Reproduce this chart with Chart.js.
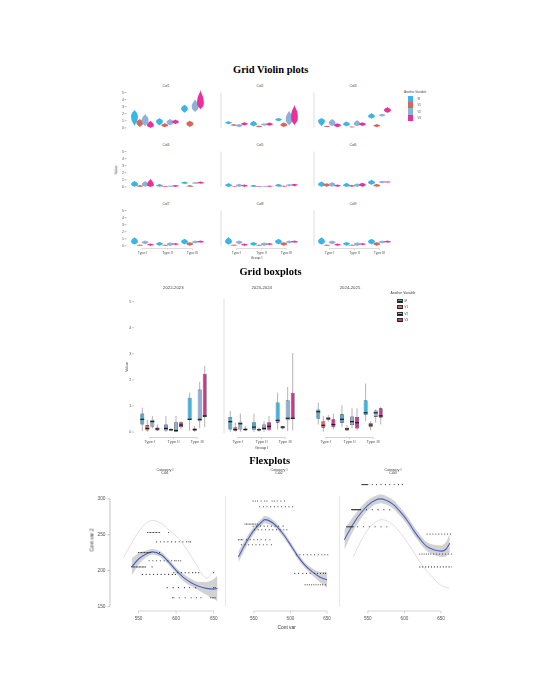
<!DOCTYPE html>
<html lang="en">
<head>
<meta charset="UTF-8" />
<title>Grid Violin plots / Grid boxplots / Flexplots</title>
<style>
  body { margin: 0; background: #fff; }
  #stage {
    position: relative;
    width: 540px;
    height: 699px;
    overflow: hidden;
    background: #fff;
    font-family: "Liberation Sans", Arial, sans-serif;
    color: #444;
  }
  #stage canvas { position: absolute; }
  .txt { position: absolute; white-space: nowrap; line-height: 1; transform: translate(-50%, -50%); }
  .lft { transform: translate(0, -50%); }
  .rot { transform: translate(-50%, -50%) rotate(-90deg); }
  .big { font-family: "Liberation Serif", "Times New Roman", serif; font-weight: bold; font-size: 10.5px; color: #000; }
  .key { position: absolute; box-sizing: border-box; }
</style>
</head>
<body>
<div id="stage"></div>

<script src="https://cdn.jsdelivr.net/npm/chart.js"></script>
<script>
  // ---- shared categories ----
  const groups = ['Type I', 'Type II', 'Type III'];
  const seriesNames = ['M', 'V1', 'V2', 'V3'];
  const violinColors = ['#3bb4e6', '#d5675d', '#8db2da', '#e8319a'];
  const boxColors = ['#42b1dc', '#d4725f', '#8fb0d4', '#d6338f'];

  // ---- violins: per series (M, V1, V2, V3), per group [low, peak, high] ----
  const violinTitles = ['Col1', 'Col2', 'Col3', 'Col4', 'Col5', 'Col6', 'Col7', 'Col8', 'Col9'];
  const violinCol1 = [
    [[0.2, 1.6, 2.6], [0.3, 0.9, 1.4], [2.1, 2.7, 3.3]],
    [[0.1, 0.7, 1.3], [0.1, 0.35, 0.7], [0.1, 0.6, 1.05]],
    [[0.2, 1.05, 2.0], [0.3, 0.8, 1.3], [2.2, 2.95, 4.1]],
    [[0.0, 0.35, 1.05], [0.5, 0.85, 1.2], [2.6, 3.5, 5.4]]
  ];
  const violinCol2 = [
    [[0.5, 0.75, 0.95], [0.2, 0.5, 1.05], [0.95, 1.2, 1.4]],
    [[0.25, 0.4, 0.55], [0.1, 0.2, 0.35], [0.1, 0.4, 0.8]],
    [[0.1, 0.35, 0.55], [0.3, 0.45, 0.65], [0.3, 1.2, 2.5]],
    [[0.35, 0.55, 0.8], [0.3, 0.5, 0.75], [0.3, 1.5, 3.3]]
  ];
  const violinCol3 = [
    [[0.2, 1.0, 1.4], [0.2, 0.5, 0.95], [1.3, 1.6, 2.1]],
    [[0.1, 0.2, 0.3], [0.05, 0.12, 0.2], [0.1, 0.3, 0.55]],
    [[0.2, 0.7, 1.3], [0.2, 0.5, 1.15], [1.6, 1.8, 2.0]],
    [[0.1, 0.35, 0.65], [0.25, 0.5, 0.8], [2.1, 2.5, 2.95]]
  ];
  const violinCol4 = [
    [[0, 0.35, 0.85], [0, 0.15, 0.4], [0.4, 0.55, 0.75]],
    [[0, 0.1, 0.25], [0, 0.05, 0.15], [0, 0.05, 0.25]],
    [[0, 0.3, 0.85], [0, 0.1, 0.2], [0.4, 0.55, 0.7]],
    [[0, 0.2, 1.2], [0, 0.12, 0.25], [0.45, 0.6, 0.75]]
  ];
  const violinCol5 = [
    [[0, 0.2, 0.55], [0, 0.1, 0.3], [0, 0.15, 0.45]],
    [[0, 0.05, 0.12], [0, 0.03, 0.1], [0, 0.05, 0.2]],
    [[0, 0.2, 0.45], [0, 0.05, 0.15], [0.05, 0.25, 0.4]],
    [[0, 0.15, 0.35], [0, 0.08, 0.2], [0.1, 0.3, 0.45]]
  ];
  const violinCol6 = [
    [[0, 0.35, 0.75], [0, 0.2, 0.6], [0.3, 0.6, 1.05]],
    [[0, 0.25, 0.5], [0, 0.12, 0.3], [0, 0.15, 0.45]],
    [[0, 0.3, 0.7], [0, 0.2, 0.5], [0.5, 0.7, 0.85]],
    [[0, 0.15, 0.35], [0, 0.3, 0.6], [0.6, 0.7, 0.8]]
  ];
  const violinCol7 = [
    [[0.15, 0.6, 1.25], [0, 0.3, 0.55], [0.2, 0.6, 1.0]],
    [[0, 0.1, 0.2], [0, 0.05, 0.2], [0, 0.25, 0.55]],
    [[0.2, 0.5, 0.75], [0, 0.2, 0.5], [0.35, 0.55, 0.75]],
    [[0, 0.15, 0.35], [0.1, 0.25, 0.4], [0.45, 0.6, 0.75]]
  ];
  const violinCol8 = violinCol7; // the three bottom panels look the same
  const violinCol9 = violinCol7;
  const violinTicks = [0, 1, 2, 3, 4, 5];

  // ---- boxplots: per series, per group [min, q1, median, q3, max] ----
  const boxTitles = ['2022-2023', '2023-2024', '2024-2025'];
  const box2022 = [
    [[0.04, 0.29, 0.49, 0.71, 0.94], [0.01, 0.06, 0.14, 0.29, 0.62], [0.04, 0.46, 0.49, 1.32, 1.51]],
    [[0.01, 0.06, 0.14, 0.27, 0.47], [0.04, 0.06, 0.09, 0.13, 0.14], [0.01, 0.04, 0.1, 0.14, 0.23]],
    [[0.14, 0.2, 0.4, 0.47, 0.62], [0, 0.01, 0.06, 0.38, 0.62], [0.14, 0.42, 0.49, 1.63, 1.92]],
    [[0.04, 0.06, 0.12, 0.18, 0.29], [0.1, 0.19, 0.27, 0.38, 0.42], [0.19, 0.58, 0.62, 2.24, 2.54]]
  ];
  const box2023 = [
    [[0.01, 0.1, 0.4, 0.58, 0.81], [0.01, 0.09, 0.19, 0.38, 0.71], [0.1, 0.36, 0.45, 1.13, 1.51]],
    [[0.01, 0.04, 0.1, 0.19, 0.36], [0.01, 0.06, 0.09, 0.13, 0.19], [0.1, 0.14, 0.19, 0.22, 0.24]],
    [[0.01, 0.1, 0.32, 0.4, 0.71], [0.01, 0.09, 0.14, 0.29, 0.42], [0.04, 0.45, 0.53, 1.22, 1.73]],
    [[0.04, 0.06, 0.1, 0.14, 0.23], [0.04, 0.09, 0.22, 0.38, 0.62], [0.06, 0.49, 0.53, 1.51, 3.03]]
  ];
  const box2024 = [
    [[0.29, 0.51, 0.78, 0.87, 1.13], [0.19, 0.36, 0.49, 0.68, 1.03], [0.42, 0.65, 0.74, 1.22, 1.86]],
    [[0.01, 0.17, 0.26, 0.42, 0.62], [0.04, 0.06, 0.12, 0.17, 0.27], [0.06, 0.19, 0.27, 0.35, 0.42]],
    [[0.4, 0.47, 0.51, 0.58, 0.65], [0.14, 0.27, 0.4, 0.6, 0.91], [0.36, 0.58, 0.74, 0.83, 0.87]],
    [[0.1, 0.19, 0.29, 0.49, 0.71], [0.06, 0.14, 0.36, 0.58, 0.91], [0.29, 0.55, 0.62, 0.91, 0.96]]
  ];
  const boxTicks = [0, 1, 2, 3, 4, 5];

  // ---- flexplots ----
  const flexTitles = ['Cat1', 'Cat2', 'Cat3'];
  const flexXTicks = [550, 600, 650];
  const flexYTicks = [150, 200, 250, 300];

  const fitX1 = [541, 550, 560, 568, 580, 590, 600, 610, 620, 630, 640, 650, 655];
  const fitY1 = [205, 216, 223, 226, 222, 212, 200, 190, 183, 178, 175, 174, 175];
  const fitSe1 = [12, 8, 5, 4, 4, 4, 4, 5, 5, 6, 9, 14, 18];
  const ghostX1 = [530, 540, 550, 560, 568, 580, 590, 605, 623, 641, 650];
  const ghostY1 = [218, 237, 254, 266, 270, 266, 257, 243, 215, 189, 200];
  const rows1 = [
    [253, [562, 564, 566, 568, 570, 572, 574, 576, 578, 590]],
    [240, [574, 579, 584, 589, 594, 599, 604, 609, 614, 617, 619]],
    [225, [550, 552, 554, 556, 558, 560, 562, 564, 566, 578]],
    [213.5, [564, 569, 574, 579, 584, 589, 594, 598, 600, 603, 606]],
    [205, [541, 543, 545, 547, 549, 551, 553, 555, 557, 559, 568]],
    [197, [597, 602, 607, 612, 617, 622, 626, 630, 650]],
    [194.5, [555, 560, 565, 570, 575, 580, 585, 590, 595, 599]],
    [176, [588, 596, 603, 611, 618, 626, 650, 652]],
    [162, [595, 597, 604, 612, 620, 627, 633, 646, 648, 650, 652]]
  ];

  const fitX2 = [529, 540, 550, 560, 565, 570, 580, 590, 600, 610, 620, 630, 640, 650];
  const fitY2 = [219, 240, 256, 267, 271, 270, 263, 251, 236, 220, 207, 198, 191, 187];
  const fitSe2 = [8, 6, 5, 5, 5, 5, 4, 4, 4, 4, 4, 5, 7, 11];
  const rows2 = [
    [297, [549, 552, 555, 560, 565, 568, 575, 578, 582, 587, 592]],
    [289, [558, 563, 568, 573, 578, 583, 588, 593, 598, 603]],
    [265, [538, 540, 542, 544, 546, 548, 550, 552, 555]],
    [262, [549, 554, 559, 564, 569, 574, 579, 584, 590]],
    [257, [551, 556, 561, 566, 571, 576, 581, 586, 591, 595]],
    [243, [529, 531, 533, 535, 540, 545, 550, 555, 560, 566, 572]],
    [236, [533, 538, 543, 548, 553, 558, 563, 568, 574]],
    [222, [608, 613, 618, 623, 628, 633, 638, 643, 647, 651]],
    [196, [606, 611, 617, 622, 627, 633, 637, 641, 645, 648]],
    [180, [620, 623, 626, 629, 632, 635, 638, 641, 644, 648]]
  ];

  const fitX3 = [518, 530, 541, 550, 560, 567, 575, 585, 596, 605, 614, 622, 630, 640, 651, 657, 662];
  const fitY3 = [243, 265, 281, 291, 298, 300, 298, 292, 280, 268, 254, 243, 234, 229, 227, 230, 238];
  const fitSe3 = [14, 10, 8, 7, 6, 6, 6, 6, 6, 6, 6, 6, 6, 7, 8, 10, 13];
  const ghostX3 = [530, 540, 550, 560, 569, 580, 590, 600, 610, 620, 630, 640, 646, 655, 662];
  const ghostY3 = [219, 240, 257, 267, 271, 267, 258, 245, 230, 214, 200, 189, 182, 177, 175];
  const rows3 = [
    [320, [542, 543, 544, 545, 546, 547, 548, 549, 550, 556, 562, 568, 574, 580, 586, 592, 597]],
    [285, [528, 529, 530, 531, 532, 533, 534, 535, 536, 537, 538, 539, 540, 548, 556, 564, 572, 580]],
    [261, [521, 522, 523, 524, 525, 526, 527, 528, 529, 530, 536, 544, 552, 560, 568, 576]],
    [251, [631, 635, 639, 643, 647, 651, 655, 659, 663]],
    [223, [621, 624, 627, 630, 633, 636, 640, 644, 648, 652, 656, 660, 664]],
    [205, [621, 625, 629, 633, 637, 641, 645, 649, 653, 657, 661, 665]]
  ];

  // ---- helpers ----
  Chart.defaults.font.family = '"Liberation Sans", Arial, sans-serif';
  const stage = document.getElementById('stage');

  function text(str, x, y, size, cls, color) {
    const d = document.createElement('div');
    d.className = 'txt' + (cls ? ' ' + cls : '');
    d.textContent = str;
    d.style.left = x + 'px';
    d.style.top = y + 'px';
    if (size) d.style.fontSize = size + 'px';
    if (color) d.style.color = color;
    stage.appendChild(d);
  }

  function key(x, y, w, h, color, border) {
    const k = document.createElement('div');
    k.className = 'key';
    k.style.cssText += `left:${x}px;top:${y}px;width:${w}px;height:${h}px;background:${color};` +
      (border ? 'border:0.4px solid #333;' : '');
    stage.appendChild(k);
    return k;
  }

  // canvas covering the plot area plus room for the axes on the left / bottom
  function canvasAt(left, top, w, h, padL, padB) {
    const c = document.createElement('canvas');
    const cw = Math.round(w + padL), ch = Math.round(h + padB);
    c.width = cw;
    c.height = ch;
    c.style.left = (left - padL) + 'px';
    c.style.top = top + 'px';
    c.style.width = cw + 'px';
    c.style.height = ch + 'px';
    stage.appendChild(c);
    return c.getContext('2d');
  }

  function sized(size, horizontal) {
    return s => {
      if (horizontal) s.height = size; else s.width = size;
      s.paddingLeft = s.paddingRight = s.paddingTop = s.paddingBottom = 0;
    };
  }
  function fixTicks(values) {
    return s => { s.ticks = values.map(v => ({ value: v })); };
  }
  const noGrid = { display: false, drawTicks: false };

  // short axis lines and tick marks, like the ggplot panels
  const axisMarks = {
    id: 'axisMarks',
    afterDraw(chart, args, o) {
      const { ctx, chartArea: a, scales: { x, y } } = chart;
      ctx.save();
      ctx.lineWidth = 0.7;
      const seg = (x1, y1, x2, y2, c) => {
        ctx.strokeStyle = c;
        ctx.beginPath(); ctx.moveTo(x1, y1); ctx.lineTo(x2, y2); ctx.stroke();
      };
      if (o.left) {
        const px = a.left - o.left.gap;
        if (o.left.line) seg(px, y.getPixelForValue(o.left.from), px, y.getPixelForValue(o.left.to), o.left.color);
        if (o.left.ticks) y.ticks.forEach(t => {
          const py = y.getPixelForValue(t.value);
          seg(px - o.left.ticks, py, px, py, o.left.color);
        });
      }
      if (o.bottom) {
        const py = a.bottom + o.bottom.gap;
        const n = x.ticks.length;
        seg(x.getPixelForTick(0), py, x.getPixelForTick(n - 1), py, o.bottom.color);
        for (let i = 0; i < n; i++) {
          const px = x.getPixelForTick(i);
          seg(px, py, px, py + o.bottom.ticks, o.bottom.color);
        }
      }
      ctx.restore();
    }
  };

  // violin outline drawn around each (invisible) floating bar
  const violinShapes = {
    id: 'violinShapes',
    afterDatasetsDraw(chart) {
      const ctx = chart.ctx, ys = chart.scales.y;
      ctx.save();
      chart.data.datasets.forEach((ds, i) => {
        chart.getDatasetMeta(i).data.forEach((bar, j) => {
          const [lo, mid, hi] = ds.shape[j];
          const x = bar.x, w = bar.width * 0.64;
          const yl = ys.getPixelForValue(lo), ym = ys.getPixelForValue(mid), yh = ys.getPixelForValue(hi);
          const up = ym - yh, dn = yl - ym;
          ctx.beginPath();
          ctx.moveTo(x, yh);
          ctx.bezierCurveTo(x + w * 0.12, yh + up * 0.3, x + w, ym - up * 0.6, x + w, ym);
          ctx.bezierCurveTo(x + w, ym + dn * 0.6, x + w * 0.12, yl - dn * 0.3, x, yl);
          ctx.bezierCurveTo(x - w * 0.12, yl - dn * 0.3, x - w, ym + dn * 0.6, x - w, ym);
          ctx.bezierCurveTo(x - w, ym - up * 0.6, x - w * 0.12, yh + up * 0.3, x, yh);
          ctx.closePath();
          ctx.fillStyle = ds.color;
          ctx.fill();
        });
      });
      ctx.restore();
    }
  };

  // whiskers behind the boxes, medians on top
  function boxLines(chart, part) {
    const ctx = chart.ctx, ys = chart.scales.y;
    ctx.save();
    chart.data.datasets.forEach((ds, i) => {
      chart.getDatasetMeta(i).data.forEach((bar, j) => {
        const [mn, , md, , mx] = ds.stats[j];
        ctx.beginPath();
        if (part === 'whisker') {
          ctx.strokeStyle = '#a0a0a0';
          ctx.lineWidth = 0.8;
          ctx.moveTo(bar.x, ys.getPixelForValue(mn));
          ctx.lineTo(bar.x, ys.getPixelForValue(mx));
        } else {
          ctx.strokeStyle = '#1a1a1a';
          ctx.lineWidth = 1.2;
          const py = ys.getPixelForValue(md);
          ctx.moveTo(bar.x - bar.width / 2, py);
          ctx.lineTo(bar.x + bar.width / 2, py);
        }
        ctx.stroke();
      });
    });
    ctx.restore();
  }
  const boxParts = {
    id: 'boxParts',
    beforeDatasetsDraw(chart) { boxLines(chart, 'whisker'); },
    afterDatasetsDraw(chart) { boxLines(chart, 'median'); }
  };

  const quiet = {
    responsive: false,
    animation: false,
    events: [],
    layout: { padding: 0, autoPadding: false }
  };

  // ---- Grid Violin plots ----
  text('Grid Violin plots', 270.7, 70, null, 'big');

  const violinPanels = [violinCol1, violinCol2, violinCol3, violinCol4, violinCol5,
                        violinCol6, violinCol7, violinCol8, violinCol9];
  const violinZero = [127.3, 186.7, 245.3];
  const violinLeft = [129.5, 223.5, 316.5];
  const violinTitleX = [166, 260, 353];
  const violinTitleY = [86.7, 145.7, 205];

  violinPanels.forEach((panel, p) => {
    const row = Math.floor(p / 3), col = p % 3;
    const padL = col === 0 ? 12 : 4, padB = row === 2 ? 9 : 1;
    const ctx = canvasAt(violinLeft[col], violinZero[row] - 38.5, 75, 40.6, padL, padB);
    new Chart(ctx, {
      type: 'bar',
      data: {
        labels: groups,
        datasets: panel.map((d, i) => ({
          label: seriesNames[i],
          data: d.map(v => [v[0], v[2]]),
          shape: d,
          color: violinColors[i],
          backgroundColor: 'rgba(0,0,0,0)',
          borderWidth: 0,
          categoryPercentage: 0.85,
          barPercentage: 1
        }))
      },
      options: {
        ...quiet,
        plugins: {
          legend: { display: false },
          tooltip: { enabled: false },
          axisMarks: {
            left: col === 0 ? { gap: 3.5, ticks: 2, color: '#999' }
                            : { gap: 3, line: true, from: 0, to: 5, color: '#cfcfcf' },
            bottom: row === 2 ? { gap: 0.5, ticks: 1.5, color: '#cfcfcf' } : null
          }
        },
        scales: {
          x: {
            grid: noGrid,
            border: { display: false },
            ticks: { display: row === 2, padding: 3, font: { size: 3.5 }, color: '#555', maxRotation: 0, autoSkip: false },
            afterFit: sized(padB, true)
          },
          y: {
            min: -0.3,
            max: 5.5,
            grid: noGrid,
            border: { display: false },
            ticks: { display: col === 0, padding: 6, font: { size: 3.5 }, color: '#555', autoSkip: false },
            afterBuildTicks: fixTicks(violinTicks),
            afterFit: sized(padL, false)
          }
        }
      },
      plugins: [violinShapes, axisMarks]
    });
    text(violinTitles[p], violinTitleX[col], violinTitleY[row], 3.4);
  });

  text('Value', 116.7, 170, 3.5, 'rot');
  text('Group I', 256.7, 259, 3.5);

  text('Another Variable', 415, 92, 3);
  seriesNames.forEach((n, i) => {
    key(408, 96 + i * 6.2, 5, 6.2, violinColors[i]);
    text(n, 417.5, 99.1 + i * 6.2, 2.8, 'lft');
  });

  // ---- Grid boxplots ----
  text('Grid boxplots', 270.5, 271.7, null, 'big');

  const boxPanels = [box2022, box2023, box2024];
  const boxLeft = [138.2, 226.2, 314.2];
  const boxTitleX = [173.3, 261.7, 350];

  boxPanels.forEach((panel, col) => {
    const padL = col === 0 ? 14 : 4, padB = 10;
    const ctx = canvasAt(boxLeft[col], 298.7, 70.8, 136.5, padL, padB);
    new Chart(ctx, {
      type: 'bar',
      data: {
        labels: groups,
        datasets: panel.map((d, i) => ({
          label: seriesNames[i],
          data: d.map(v => [v[1], v[3]]),
          stats: d,
          backgroundColor: boxColors[i],
          borderColor: '#2b2b2b',
          borderWidth: 0.6,
          borderSkipped: false,
          categoryPercentage: 0.85,
          barPercentage: 0.78
        }))
      },
      options: {
        ...quiet,
        plugins: {
          legend: { display: false },
          tooltip: { enabled: false },
          axisMarks: {
            left: col === 0 ? { gap: 4.2, ticks: 1.5, color: '#999' }
                 : col === 1 ? { gap: 2, line: true, from: -0.05, to: 5.1, color: '#cfcfcf' } : null,
            bottom: { gap: 1.5, ticks: 1.5, color: '#bdbdbd' }
          }
        },
        scales: {
          x: {
            grid: noGrid,
            border: { display: false },
            ticks: { padding: 3.7, font: { size: 4 }, color: '#555', maxRotation: 0, autoSkip: false },
            afterFit: sized(padB, true)
          },
          y: {
            min: -0.15,
            max: 5.1,
            grid: noGrid,
            border: { display: false },
            ticks: { display: col === 0, padding: 6.7, font: { size: 3.8 }, color: '#555', autoSkip: false },
            afterBuildTicks: fixTicks(boxTicks),
            afterFit: sized(padL, false)
          }
        }
      },
      plugins: [boxParts, axisMarks]
    });
    text(boxTitles[col], boxTitleX[col], 288.3, 4.3);
  });

  text('Value', 126.7, 366.7, 4, 'rot');
  text('Group I', 261.7, 448.3, 4);

  text('Another Variable', 403, 294.3, 3.4);
  seriesNames.forEach((n, i) => {
    const k = key(397.3, 298.5 + i * 6.5, 5.4, 4.4, boxColors[i], true);
    const m = document.createElement('div');
    m.style.cssText = 'position:absolute;left:0;right:0;top:1.6px;height:0.6px;background:#1a1a1a;';
    k.appendChild(m);
    text(n, 404.5, 300.7 + i * 6.5, 2.9, 'lft');
  });

  // ---- Flexplots ----
  text('Flexplots', 269.7, 461, null, 'big');

  const flexPanels = [
    { left: 109.5, w: 114.75, fx: fitX1, fy: fitY1, se: fitSe1, gx: ghostX1, gy: ghostY1, rows: rows1, tx: 165 },
    { left: 226.3, w: 111.7, fx: fitX2, fy: fitY2, se: fitSe2, gx: null, gy: null, rows: rows2, tx: 279 },
    { left: 340.3, w: 111.7, fx: fitX3, fy: fitY3, se: fitSe3, gx: ghostX3, gy: ghostY3, rows: rows3, tx: 393 }
  ];

  flexPanels.forEach((f, p) => {
    const padL = p === 0 ? 18 : 3, padB = 12;
    const ctx = canvasAt(f.left, 481.2, f.w, 130.5, padL, padB);
    const pts = f.rows.flatMap(([yv, xs]) => xs.map(xv => ({ x: xv, y: yv })));
    const fit = f.fx.map((xv, k) => ({ x: xv, y: f.fy[k] }));
    const upper = f.fx.map((xv, k) => ({ x: xv, y: f.fy[k] + f.se[k] }));
    const lower = f.fx.map((xv, k) => ({ x: xv, y: f.fy[k] - f.se[k] }));
    const datasets = [
      { data: pts, showLine: false, pointRadius: 0.55, pointBorderWidth: 0, pointBackgroundColor: '#222', clip: false },
      { data: fit, borderColor: '#4a63c4', borderWidth: 1.1, pointRadius: 0, cubicInterpolationMode: 'monotone', clip: false },
      { data: upper, borderWidth: 0, pointRadius: 0, cubicInterpolationMode: 'monotone', fill: '+1',
        backgroundColor: 'rgba(165,165,165,0.5)', clip: false },
      { data: lower, borderWidth: 0, pointRadius: 0, cubicInterpolationMode: 'monotone', fill: false, clip: false }
    ];
    if (f.gx) {
      datasets.push({ data: f.gx.map((xv, k) => ({ x: xv, y: f.gy[k] })), borderColor: '#ecd8de', borderWidth: 1,
        pointRadius: 0, cubicInterpolationMode: 'monotone', clip: false });
    }
    new Chart(ctx, {
      type: 'line',
      data: { datasets },
      options: {
        ...quiet,
        plugins: {
          legend: { display: false },
          tooltip: { enabled: false },
          axisMarks: {
            left: p === 0 ? { gap: 0, line: true, from: 150, to: 300, ticks: 2.5, color: '#aaa' }
                          : { gap: 0.5, line: true, from: 150, to: 304, color: '#dcdcdc' },
            bottom: { gap: -1, ticks: 2.5, color: '#c4c4c4' }
          }
        },
        scales: {
          x: {
            type: 'linear',
            min: 512,
            max: 665,
            grid: noGrid,
            border: { display: false },
            ticks: { padding: 4.3, font: { size: 4.6 }, color: '#555', maxRotation: 0, autoSkip: false },
            afterBuildTicks: fixTicks(flexXTicks),
            afterFit: sized(padB, true)
          },
          y: {
            type: 'linear',
            min: 142,
            max: 325,
            grid: noGrid,
            border: { display: false },
            ticks: { display: p === 0, padding: 4.5, font: { size: 4.8 }, color: '#555', autoSkip: false },
            afterBuildTicks: fixTicks(flexYTicks),
            afterFit: sized(padL, false)
          }
        }
      },
      plugins: [axisMarks]
    });
    text('Category I', f.tx, 470.7, 3.7);
    text(flexTitles[p], f.tx, 474.3, 3.7);
  });

  text('Cont var 2', 91.7, 540, 5, 'rot', '#333');
  text('Cont var', 286.7, 628.3, 4.8, null, '#333');
</script>
</body>
</html>
